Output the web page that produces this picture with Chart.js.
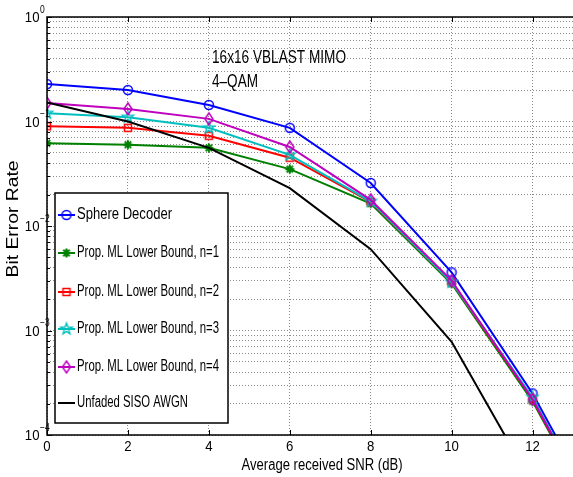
<!DOCTYPE html>
<html>
<head>
<meta charset="utf-8">
<script src="https://cdn.jsdelivr.net/npm/chart.js@4.4.1/dist/chart.umd.min.js"></script>
<style>
  html, body { margin: 0; padding: 0; overflow: hidden; background: #fff; }
  #wrap { width: 580px; height: 477px; }
</style>
</head>
<body>
<div id="wrap"><canvas id="ber" width="580" height="477"></canvas></div>
<script>
// values (SNR in dB, BER)
const snrDb = [0, 2, 4, 6, 8, 10, 12, 14];
const awgnSnrDb = [0, 2, 4, 6, 8, 10, 12];
const sphereBer = [0.228, 0.200, 0.144, 0.087, 0.0258, 0.0036, 0.00025, 0.0000095];
const lb1Ber = [0.062, 0.060, 0.056, 0.035, 0.0164, 0.0028, 0.00021, 0.000008];
const lb2Ber = [0.090, 0.087, 0.073, 0.045, 0.0170, 0.0029, 0.00022, 0.000008];
const lb3Ber = [0.120, 0.110, 0.087, 0.048, 0.0172, 0.0029, 0.00023, 0.0000085];
const lb4Ber = [0.150, 0.132, 0.106, 0.057, 0.0178, 0.0030, 0.00022, 0.0000085];
const awgnBer = [0.152, 0.100, 0.056, 0.023, 0.0060, 0.00078, 0.000034];

const seriesNames = [
  'Sphere Decoder',
  'Prop. ML Lower Bound, n=1',
  'Prop. ML Lower Bound, n=2',
  'Prop. ML Lower Bound, n=3',
  'Prop. ML Lower Bound, n=4',
  'Unfaded SISO AWGN'
];
const seriesColors = ['#0000ff', '#008000', '#ff0000', '#00bfbf', '#bf00bf', '#000000'];
const seriesMarkers = ['circle', 'asterisk', 'square', 'pentagram', 'diamond', null];
const xTicks = [0, 2, 4, 6, 8, 10, 12];
const yDecades = [0, -1, -2, -3, -4];
const annotation = ['16x16 VBLAST MIMO', '4\u2013QAM'];
const xTitle = 'Average received SNR (dB)';
const yTitle = 'Bit Error Rate';

// matlab-like marker drawn into a small canvas so it can be used as pointStyle
function makeMarker(type, color) {
  const c = document.createElement('canvas');
  c.width = 18; c.height = 18;
  const g = c.getContext('2d');
  g.strokeStyle = color;
  g.lineWidth = 1.5;
  g.translate(9, 9);
  g.beginPath();
  if (type === 'circle') {
    g.arc(0, 0, 4.5, 0, Math.PI * 2);
  } else if (type === 'asterisk') {
    for (let a = 0; a < 4; a++) {
      const t = a * Math.PI / 4;
      g.moveTo(-4.5 * Math.cos(t), -4.5 * Math.sin(t));
      g.lineTo(4.5 * Math.cos(t), 4.5 * Math.sin(t));
    }
    g.lineWidth = 2;
  } else if (type === 'square') {
    g.rect(-3.5, -3.5, 7, 7);
  } else if (type === 'pentagram') {
    for (let i = 0; i < 10; i++) {
      const r = i % 2 === 0 ? 6 : 2.4;
      const t = -Math.PI / 2 + i * Math.PI / 5;
      if (i === 0) g.moveTo(r * Math.cos(t), r * Math.sin(t));
      else g.lineTo(r * Math.cos(t), r * Math.sin(t));
    }
    g.closePath();
    g.lineWidth = 1.3;
  } else if (type === 'diamond') {
    g.moveTo(0, -6); g.lineTo(4, 0); g.lineTo(0, 6); g.lineTo(-4, 0); g.closePath();
  }
  g.stroke();
  return c;
}

const markerImgs = seriesMarkers.map((m, i) => m ? makeMarker(m, seriesColors[i]) : null);

function toPoints(xs, ys) {
  return xs.map((x, i) => ({ x: x, y: ys[i] }));
}

const allBer = [sphereBer, lb1Ber, lb2Ber, lb3Ber, lb4Ber, awgnBer];
const datasets = allBer.map((ber, i) => ({
  label: seriesNames[i],
  data: toPoints(i === 5 ? awgnSnrDb : snrDb, ber),
  borderColor: seriesColors[i],
  borderWidth: 2,
  pointStyle: markerImgs[i] || 'circle',
  pointRadius: markerImgs[i] ? 5 : 0,
  tension: 0,
  order: 10 - i
}));

// condensed helvetica-ish text
function drawText(ctx, text, x, y, font, sx, align, rot) {
  ctx.save();
  ctx.font = font;
  ctx.fillStyle = '#000';
  ctx.textAlign = align;
  ctx.textBaseline = 'middle';
  ctx.translate(x, y);
  if (rot) ctx.rotate(rot);
  ctx.scale(sx, 1);
  ctx.fillText(text, 0, 0);
  ctx.restore();
}

function fitText(ctx, text, x, y, width, font, align, rot) {
  ctx.save();
  ctx.font = font;
  const w = ctx.measureText(text).width;
  ctx.restore();
  drawText(ctx, text, x, y, font, width / w, align, rot);
}

const FONT = '"Liberation Sans", Arial, sans-serif';

const decorPlugin = {
  id: 'decor',
  afterDraw(chart) {
    const ctx = chart.ctx;
    const xs = chart.scales.x, ys = chart.scales.y;
    const area = chart.chartArea;

    // axes box
    ctx.save();
    ctx.strokeStyle = '#000';
    ctx.lineWidth = 1.5;
    ctx.beginPath();
    ctx.moveTo(area.right + 5, area.top); ctx.lineTo(area.left, area.top);
    ctx.lineTo(area.left, area.bottom); ctx.lineTo(area.right + 5, area.bottom);
    ctx.stroke();

    // tick marks
    ctx.lineWidth = 1;
    ctx.beginPath();
    xTicks.forEach(v => {
      const px = Math.round(xs.getPixelForValue(v)) + 0.5;
      ctx.moveTo(px, area.bottom); ctx.lineTo(px, area.bottom - 5);
      ctx.moveTo(px, area.top); ctx.lineTo(px, area.top + 5);
    });
    yDecades.forEach(k => {
      for (let m = 1; m < 10; m++) {
        if (k === 0 && m > 1) break;
        const py = Math.round(ys.getPixelForValue(m * Math.pow(10, k))) + 0.5;
        ctx.moveTo(area.left, py); ctx.lineTo(area.left + (m === 1 ? 5 : 3), py);
      }
    });
    ctx.stroke();
    ctx.restore();

    // tick labels
    xTicks.forEach(v => {
      drawText(ctx, String(v), xs.getPixelForValue(v), 447, '15px ' + FONT, 0.88, 'center');
    });
    yDecades.forEach(k => {
      const py = ys.getPixelForValue(Math.pow(10, k));
      drawText(ctx, '10', 39.5, py + 1, '15px ' + FONT, 0.88, 'right');
      const ex = k === 0 ? '0' : '\u2212' + Math.abs(k);
      drawText(ctx, ex, 40, py - 7, '10px ' + FONT, 0.85, 'left');
    });

    // axis titles
    fitText(ctx, xTitle, 322, 466, 161, '16px ' + FONT, 'center');
    fitText(ctx, yTitle, 14, 219, 117, '16px ' + FONT, 'center', -Math.PI / 2);

    // annotation
    fitText(ctx, annotation[0], 212, 58, 134, '19px ' + FONT, 'left');
    fitText(ctx, annotation[1], 212, 82, 46, '19px ' + FONT, 'left');

    // legend
    const lx = 55, ly = 193, lw = 173, lh = 230;
    ctx.save();
    ctx.fillStyle = '#fff';
    ctx.fillRect(lx, ly, lw, lh);
    ctx.strokeStyle = '#000';
    ctx.lineWidth = 1.5;
    ctx.strokeRect(lx, ly, lw, lh);
    ctx.restore();
    const rowY = [215, 253, 292, 329, 367, 403];
    const rowW = [95, 142, 142, 142, 142, 111];
    seriesNames.forEach((name, i) => {
      const y = rowY[i];
      ctx.save();
      ctx.strokeStyle = seriesColors[i];
      ctx.lineWidth = 2;
      ctx.beginPath();
      ctx.moveTo(58, y); ctx.lineTo(75, y);
      ctx.stroke();
      ctx.restore();
      if (markerImgs[i]) ctx.drawImage(markerImgs[i], 66.5 - 9, y - 9);
      fitText(ctx, name, 77, y, rowW[i], '16px ' + FONT, 'left');
    });
  }
};

function logTicks() {
  const t = [];
  for (let k = -4; k <= 0; k++) {
    for (let m = 1; m < 10; m++) {
      if (k === 0 && m > 1) break;
      t.push({ value: m * Math.pow(10, k) });
    }
  }
  return t;
}

new Chart(document.getElementById('ber'), {
  type: 'line',
  data: { datasets: datasets },
  options: {
    responsive: false,
    animation: false,
    devicePixelRatio: 1,
    layout: { padding: { left: 47, top: 17, right: 5, bottom: 42 } },
    plugins: { legend: { display: false }, tooltip: { enabled: false } },
    scales: {
      x: {
        type: 'linear',
        min: 0,
        max: 13,
        afterBuildTicks: s => { s.ticks = xTicks.map(v => ({ value: v })); },
        ticks: { display: false },
        grid: { color: '#8a8a8a', lineWidth: 1, drawTicks: false },
        border: { display: false, dash: [1, 2] }
      },
      y: {
        type: 'logarithmic',
        min: 1e-4,
        max: 1,
        afterBuildTicks: s => { s.ticks = logTicks(); },
        ticks: { display: false },
        grid: { color: '#8a8a8a', lineWidth: 1, drawTicks: false },
        border: { display: false, dash: [1, 2] }
      }
    }
  },
  plugins: [decorPlugin]
});
</script>
</body>
</html>
